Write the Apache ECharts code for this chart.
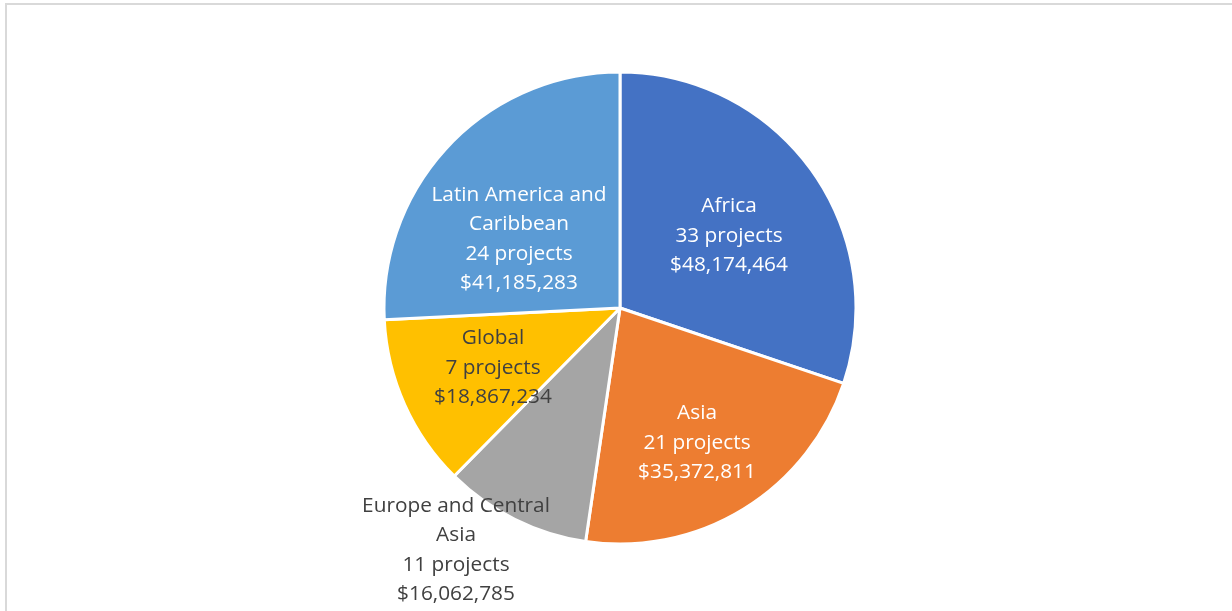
<!DOCTYPE html>
<html><head><meta charset="utf-8">
<script src="https://cdn.jsdelivr.net/npm/echarts@6/dist/echarts.min.js"></script>
<style>
html,body{margin:0;padding:0;background:#fff;}
#frame{position:absolute;left:5px;top:3px;width:1240px;height:620px;border:2px solid #d9d9d9;box-sizing:border-box;}
#chart{position:absolute;left:0;top:0;width:1232px;height:611px;}
</style></head>
<body>
<div id="frame"></div>
<div id="chart"></div>
<script>
const categories = ["Africa", "Asia", "Europe and Central Asia", "Global", "Latin America and Caribbean"];
const labelNames = ["Africa", "Asia", "Europe and Central\nAsia", "Global", "Latin America and\nCaribbean"];
const projects = [33, 21, 11, 7, 24];
const amounts = [48174464, 35372811, 16062785, 18867234, 41185283];

const colors = ["#4472C4", "#ED7D31", "#A5A5A5", "#FFC000", "#5B9BD5"];
const textColors = ["#ffffff", "#ffffff", "#404040", "#404040", "#ffffff"];
// label centre offsets from pie centre (layout only)
const labelOffsets = [[109, -72], [77, 135], [-164, 242], [-127, 60], [-101, -69]];

const CX = 620, CY = 308, R = 236;

const chart = echarts.init(document.getElementById('chart'), null, {renderer: 'canvas'});
const fmtMoney = v => '$' + v.toLocaleString('en-US');

chart.setOption({
  animation: false,
  color: colors,
  series: [{
    type: 'pie',
    center: [CX, CY],
    radius: [0, R],
    startAngle: 90,
    clockwise: true,
    avoidLabelOverlap: false,
    itemStyle: {borderColor: '#ffffff', borderWidth: 3},
    label: {
      show: true,
      position: 'inside',
      fontFamily: '"Open Sans", sans-serif',
      fontSize: 20.8,
      lineHeight: 29.5,
      align: 'center',
      verticalAlign: 'middle',
      formatter: p => labelNames[p.dataIndex] + '\n' + projects[p.dataIndex] + ' projects\n' + fmtMoney(p.value)
    },
    labelLine: {show: false},
    labelLayout: function (params) {
      const o = labelOffsets[params.dataIndex];
      return {x: CX + o[0], y: CY + o[1], align: 'center', verticalAlign: 'middle'};
    },
    data: categories.map((c, i) => ({
      name: c,
      value: amounts[i],
      label: {color: textColors[i]}
    }))
  }]
});
</script>
</body></html>
